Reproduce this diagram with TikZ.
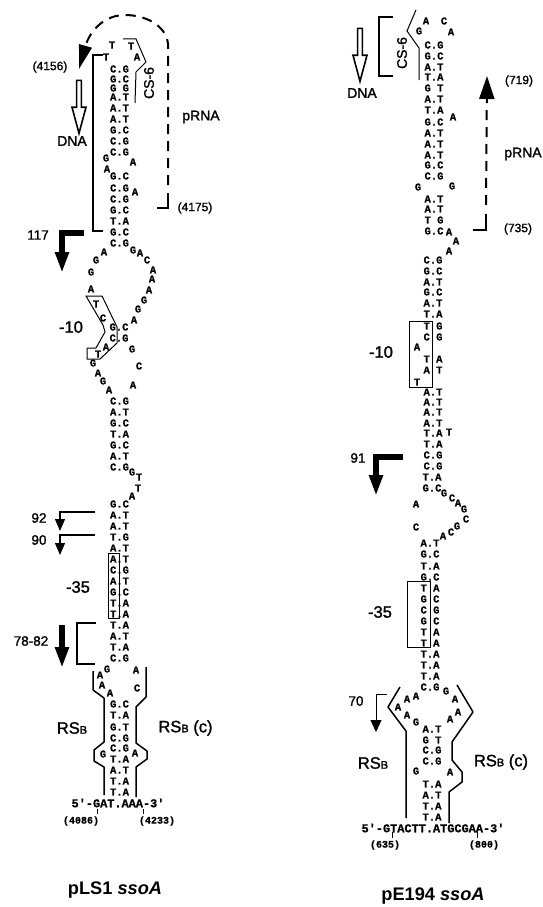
\documentclass[tikz,border=0pt]{standalone}
\usepackage{fontspec}
\usetikzlibrary{arrows.meta,shapes.arrows}
\setmainfont{Liberation Sans}
\newfontfamily\basefont[BoldFeatures={FakeBold=0.8}]{Liberation Mono}
\newfontfamily\labfont[FakeBold=1.5]{Liberation Sans}

\tikzset{
  nt/.style={font=\basefont\bfseries\fontsize{10.5}{10}\selectfont,inner sep=0pt},
  seqtext/.style={font=\basefont\bfseries\fontsize{11.9}{11}\selectfont,inner sep=0pt},
  posn/.style={font=\labfont\fontsize{12}{12}\selectfont,inner sep=0pt},
  monopos/.style={font=\basefont\bfseries\fontsize{10}{11}\selectfont,inner sep=0pt},
  small/.style={font=\labfont\fontsize{13.5}{13}\selectfont,inner sep=0pt},
  boxlab/.style={font=\labfont\fontsize{16.5}{17}\selectfont,inner sep=0pt},
  rslab/.style={font=\labfont\fontsize{16.5}{17}\selectfont,inner sep=0pt},
  rnalab/.style={font=\labfont\fontsize{14}{15}\selectfont,inner sep=0pt},
  title/.style={font=\bfseries\fontsize{18.2}{18}\selectfont,inner sep=0pt},
  outline/.style={line width=1.5pt,line join=round},
  thinline/.style={line width=1pt},
  bracket/.style={line width=1.1pt},
  hairtick/.style={line width=.6pt},
  thickturn/.style={line width=6pt,-{Triangle[length=21pt,width=13pt]}},
  thinturn/.style={line width=1.2pt,-{Triangle[length=12pt,width=10pt]}},
  rnadash/.style={line width=2pt,dash pattern=on 10pt off 7pt},
  dnaarrow/.style={draw,single arrow,shape border rotate=270,line width=1.6pt,
    minimum width=14pt,single arrow head extend=4pt,single arrow tip angle=30,
    single arrow head indent=0pt,minimum height=53pt,inner sep=1.2pt}
}

\begin{document}
\begin{tikzpicture}[x=1pt,y=-1pt]
\useasboundingbox (0,0) rectangle (543,907);

% pLS1 stems
\foreach \y/\t [count=\i] in {69/C.G,79/G.C,88/G G,97/A.T,108/A.T,119/A.T,130/G.C,141/C.G,152/C.G,
  176/G.C,188/C.G,199/C.G,210/G.C,221/T.A,232/G.C,243/C.G,
  401/C.G,412/A.T,423/G.C,434/T.A,445/G.C,456/A.T,467/C.G,
  504/G.C,515/A.T,526/A.T,537/T.G,548/A.T,559/A.T,570/C.G,581/A.T,592/G.C,603/T.A,614/T.A,625/T.A,636/A.T,647/T.A,658/C.G,
  704/G.C,715/T.A,727/G.T,738/C.G,748/C.G,759/T.A,770/A.T,781/T.A,792/T.A}
  \node[nt] (ls\i) at (119.5,\y) {\t};
\node[nt] (lp1) at (119,327) {G.C};
\node[nt] (lp2) at (119,338) {C.G};

% pLS1 loose bases
\foreach \x/\y/\t [count=\i] in {112/45/T,131/46/T,137/57/A,106/57/T,106/158/G,133/162/A,107/169/A,135/192/A,
  133/250/G,140/253/A,147/260/C,153/270/A,152/279/A,149/290/A,144/300/G,138/309/G,134/320/A,
  104/252/A,96/260/G,91/272/G,91/289/A,96/304/T,103/318/C,106/347/A,98/354/T,132/349/G,139/366/C,
  93/363/G,98/373/A,103/381/G,109/390/A,133/385/A,132/472/G,139/477/T,138/488/T,132/496/A,
  100/675/A,107/669/G,136/670/A,102/685/A,110/693/A,137/688/C,103/754/G,135/753/A}
  \node[nt] (ll\i) at (\x,\y) {\t};

\node[seqtext] (lseq) at (118,803) {5'-GAT.AAA-3'};
\node[monopos] (lpa) at (81,821) {(4086)};
\node[monopos] (lpb) at (157,821) {(4233)};
\draw[hairtick] (97,809) -- (97,814);
\draw[hairtick] (143,809) -- (143,814);

% pLS1 outlines
\draw[thinline] (123,39) -- (136,39) -- (146,62) -- (136,72) -- (135,103);
\draw[bracket] (103,55) -- (93,55) -- (93,231) -- (103,231);
\draw[thinline] (86,296) -- (102,296) -- (117,327) -- (117,343) -- (100,359) -- (87,359)
  -- (87,348) -- (96,348) -- (105,332) -- (103,325) -- cycle;
\draw[thinline] (108,553) rectangle (119,618);
\draw[bracket] (96,623) -- (77,623) -- (77,664) -- (95,664);
\draw[outline] (93,671) -- (93,690) -- (104,698) -- (104,742) -- (94,750) -- (94,761) -- (104,767) -- (104,795);
\draw[outline] (146,667) -- (146,697) -- (136,707) -- (136,743) -- (147,751) -- (147,759) -- (136,767) -- (136,797);

% pLS1 arrows and labels
\coordinate (lrnaend) at (157,208);
\coordinate (lrnatip) at (79,69);
\draw[line width=2pt] (lrnaend) -- (168,208) -- (168,193);
\draw[rnadash,-{Triangle[length=24pt,width=13pt]}] (168,185) -- (168,44) .. controls (166,25) and (145,15) .. (125,15)
  .. controls (105,15) and (90,30) .. (lrnatip);
\node[dnaarrow] (ldna) at (79,102.5) {};
\coordinate (lt117) at (84,232.5);
\coordinate (lt117b) at (62,273);
\draw[thickturn] (lt117) -| (lt117b);
\coordinate (lt92) at (95,512);
\coordinate (lt92b) at (60,531);
\draw[thinturn] (lt92) -| (lt92b);
\coordinate (lt90) at (95,535);
\coordinate (lt90b) at (60,555);
\draw[thinturn] (lt90) -| (lt90b);
\coordinate (lt78a) at (62,625);
\coordinate (lt78b) at (62,668);
\draw[thickturn] (lt78a) -- (lt78b);

\node[posn] (l4156) at (50,67) {(4156)};
\node[posn] (l4175) at (195,208) {(4175)};
\node[rnalab] (ldnal) at (72,141) {DNA};
\node[rnalab] (lrna) at (201,117) {pRNA};
\node[rnalab,rotate=90] (lcs) at (149,83) {CS-6};
\node[small] (l117) at (38,235) {117};
\node[small] (l92) at (39,518) {92};
\node[small] (l90) at (39,540) {90};
\node[small] (l78) at (31,641) {78-82};
\node[boxlab] (lm10) at (71,327) {-10};
\node[boxlab] (lm35) at (78,587) {-35};
\node[rslab] (lrs) at (72,728) {RS{\fontsize{11}{11}\selectfont B}};
\node[rslab] (lrsc) at (185.5,728) {RS{\fontsize{11}{11}\selectfont B} (c)};
\node[title] (ltitle) at (115,890) {pLS1 \textit{ssoA}};

% pE194 stems
\foreach \x/\y/\t [count=\i] in {434/45/C.G,434/56/G.C,434/67/A.T,434/77/T.A,434/88/G T,434/99/A.T,434/110/T.A,434/122/G.C,
  434/133/A.T,434/144/A.T,434/155/A.T,434/165/G.C,434/176/C.G,434/199/A.T,434/209/A.T,434/220/T G,434/231/G.C,
  433/260/C.G,433/271/G.C,433/282/A.T,433/292/G.C,433/303/A.T,433/314/T.A,433/326/T G,433/337/C G,433/359/T A,433/370/A T,
  433/392/A.T,433/402/A.T,433/412/A.T,433/423/A.T,433/433/T.A,433/444/T.A,433/455/C.G,433/466/C.G,432/477/T.A,432/488/G.C,
  430/543/A.T,430/554/G.C,430/566/T.A,430/577/G.C,430/588/T A,430/599/G C,430/610/C G,430/621/G C,430/632/T A,430/643/T A,
  430/654/T.A,430/665/T.A,430/676/T.A,430/687/C.G,
  432/729/A.T,432/740/G T,432/750/C.G,432/761/C.G,432/784/T.A,432/795/A.T,432/806/T.A,432/817/T.A}
  \node[nt] (es\i) at (\x,\y) {\t};

% pE194 loose bases
\foreach \x/\y/\t [count=\i] in {426/21/A,444/21/C,419/31/G,451/32/A,453/117/A,418/187/G,452/186/G,449/232/A,456/241/A,449/251/A,
  417/347/A,417/382/T,449/432/T,444/493/G,452/498/C,458/503/A,464/509/G,466/519/C,457/526/G,451/532/C,443/536/A,416/504/A,416/527/C,
  416/696/A,407/699/A,398/707/A,407/715/A,416/722/G,446/691/G,455/699/A,458/712/A,450/719/A,416/771/G,450/772/A}
  \node[nt] (el\i) at (\x,\y) {\t};

\node[seqtext] (eseq) at (433,828) {5'-GTACTT.ATGCGAA-3'};
\node[monopos] (epa) at (385,845) {(635)};
\node[monopos] (epb) at (484,845) {(800)};
\draw[hairtick] (392,832) -- (392,838);
\draw[hairtick] (477,832) -- (477,838);

% pE194 outlines
\draw[thinline] (416,10) -- (407,31) -- (419,48) -- (419,80);
\draw[bracket] (393,17) -- (379,17) -- (379,76) -- (393,76);
\draw[thinline] (409,321) rectangle (432,387);
\draw[thinline] (407,581) rectangle (430,647);
\draw[outline] (400,687) -- (388,707) -- (406,731) -- (406,818);
\draw[outline] (457,685) -- (473,712) -- (452,742) -- (452,760) -- (462,772) -- (462,782) -- (449,792) -- (449,823);

% pE194 arrows and labels
\coordinate (ernaend) at (473,230);
\coordinate (ernatip) at (487,76);
\draw[line width=2pt] (ernaend) -- (486,230) -- (486,214);
\draw[rnadash,-{Triangle[length=23pt,width=15pt]}] (486,205) -- (ernatip);
\node[dnaarrow] (edna) at (360,50.5) {};
\coordinate (et91) at (403,457);
\coordinate (et91b) at (376,496);
\draw[thickturn] (et91) -| (et91b);
\coordinate (et70) at (387,694);
\coordinate (et70b) at (376,732);
\draw[line width=1pt,-{Triangle[length=12pt,width=11pt]}] (et70) -| (et70b);

\node[posn] (e719) at (519,81) {(719)};
\node[posn] (e735) at (518,229) {(735)};
\node[rnalab] (ednal) at (362,93) {DNA};
\node[rnalab] (erna) at (523,154) {pRNA};
\node[rnalab,rotate=90] (ecs) at (402,53) {CS-6};
\node[small] (e91) at (358,458) {91};
\node[small] (e70) at (356,701) {70};
\node[boxlab] (em10) at (381,352) {-10};
\node[boxlab] (em35) at (380,612) {-35};
\node[rslab] (ers) at (373,763) {RS{\fontsize{11}{11}\selectfont B}};
\node[rslab] (ersc) at (501,762) {RS{\fontsize{11}{11}\selectfont B} (c)};
\node[title] (etitle) at (433,896) {pE194 \textit{ssoA}};
\end{tikzpicture}
\end{document}
